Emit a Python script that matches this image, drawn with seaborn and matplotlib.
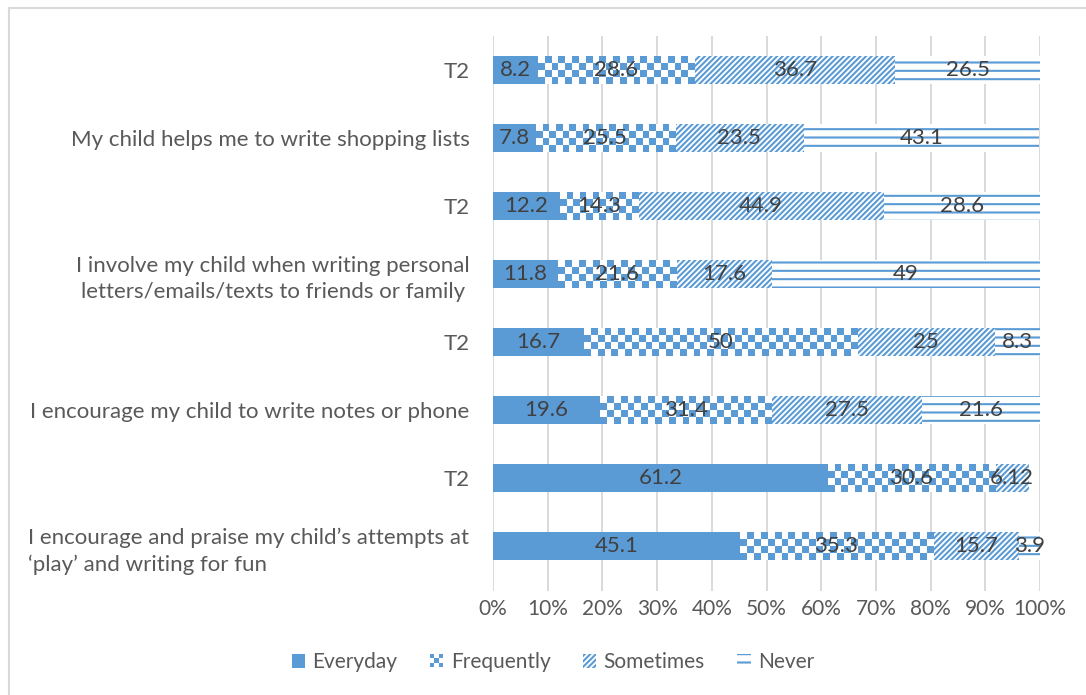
import numpy as np
import pandas as pd
import matplotlib
matplotlib.use("Agg")
import matplotlib.pyplot as plt
from matplotlib.colors import ListedColormap
from matplotlib.patches import Patch, Rectangle
from matplotlib.legend_handler import HandlerBase
import seaborn as sns

# ---- data -------------------------------------------------------------
items = [
    "T2",
    "My child helps me to write shopping lists",
    "T2",
    "I involve my child when writing personal\nletters/emails/texts to friends or family",
    "T2",
    "I encourage my child to write notes or phone",
    "T2",
    "I encourage and praise my child\u2019s attempts at\n\u2018play\u2019 and writing for fun",
]
everyday = [8.2, 7.8, 12.2, 11.8, 16.7, 19.6, 61.2, 45.1]
frequently = [28.6, 25.5, 14.3, 21.6, 50, 31.4, 30.6, 35.3]
sometimes = [36.7, 23.5, 44.9, 17.6, 25, 27.5, 6.12, 15.7]
never = [26.5, 43.1, 28.6, 49, 8.3, 21.6, None, 3.9]
series_names = ["Everyday", "Frequently", "Sometimes", "Never"]
x_ticks = [0, 10, 20, 30, 40, 50, 60, 70, 80, 90, 100]

# ---- styling ----------------------------------------------------------
BLUE = "#5B9BD5"
AXIS_TXT = "#595959"
LABEL_TXT = "#404040"
GRID = "#D9D9D9"
HATCH_DIAG = "//////"
HATCH_HORIZ = "--"

sns.set_style("white")
plt.rcParams["font.family"] = ["Lato", "DejaVu Sans"]
plt.rcParams["hatch.linewidth"] = 1.5

W, H = 1086, 695
fig = plt.figure(figsize=(W / 100, H / 100), dpi=100)
ax = fig.add_axes([493 / W, 1 - 591 / H, 547 / W, 555 / H])

rows = [f"r{i}" for i in range(len(items))]
df = pd.DataFrame({
    "row": rows,
    "Everyday": everyday,
    "Frequently": frequently,
    "Sometimes": sometimes,
    "Never": [np.nan if v is None else v for v in never],
})
cum = df[series_names].fillna(0).cumsum(axis=1)
for name in series_names:
    df["end_" + name] = cum[name]

BAR_W = 0.4

# stacked bars are drawn back-to-front as cumulative totals
common = dict(y="row", order=rows, orient="h", width=BAR_W, saturation=1,
              errorbar=None, ax=ax)
sns.barplot(data=df, x="end_Never", color="white", edgecolor=BLUE,
            linewidth=0, hatch=HATCH_HORIZ, zorder=1, **common)
sns.barplot(data=df, x="end_Sometimes", color="white", edgecolor=BLUE,
            linewidth=0, hatch=HATCH_DIAG, zorder=1.2, **common)
sns.barplot(data=df, x="end_Frequently", color="white", linewidth=0,
            zorder=1.4, **common)

# checkerboard fill for the "Frequently" segments
checker_cmap = ListedColormap(["white", BLUE])
ax_w_px = 547
cell_px = 6.8
for i in range(len(rows)):
    x0 = everyday[i]
    x1 = x0 + frequently[i]
    ncols = max(1, int(round(frequently[i] / 100 * ax_w_px / cell_px)))
    nrows = 4
    board = np.add.outer(np.arange(nrows), np.arange(ncols)) % 2
    ax.imshow(board, cmap=checker_cmap, extent=(x0, x1, i + BAR_W / 2, i - BAR_W / 2),
              aspect="auto", interpolation="nearest", zorder=1.6, vmin=0, vmax=1)

sns.barplot(data=df, x="end_Everyday", color=BLUE, linewidth=0, zorder=1.8, **common)

# value labels centred in each segment
for i in range(len(rows)):
    left = 0
    for name in series_names:
        v = df.loc[i, name]
        if pd.isna(v):
            continue
        ax.text(left + v / 2, i, f"{v:g}", ha="center", va="center",
                color=LABEL_TXT, fontsize=16, zorder=5)
        left += v

# ---- axes -------------------------------------------------------------
ax.set_xlim(0, 100)
ax.set_ylim(len(rows) - 0.5 + 11 / 68, -0.5)
ax.set_xticks(x_ticks)
ax.set_xticklabels([f"{t}%" for t in x_ticks])
ax.set_yticks(range(len(rows)))
ax.set_yticklabels(items)
ax.set_xlabel("")
ax.set_ylabel("")
ax.xaxis.grid(True, color=GRID, linewidth=1.4)
ax.yaxis.grid(False)
ax.set_axisbelow(True)
for s in ax.spines.values():
    s.set_visible(False)
ax.tick_params(axis="both", length=0, labelcolor=AXIS_TXT)
ax.tick_params(axis="x", labelsize=15, pad=6)
ax.tick_params(axis="y", labelsize=16, pad=17)
for lbl in ax.get_yticklabels():
    lbl.set_linespacing(1.4)
    txt = lbl.get_text()
    if "\n" in txt:
        lbl.set_multialignment("left" if txt.startswith("I encourage and") else "center")

# ---- legend -----------------------------------------------------------
class CheckerHandler(HandlerBase):
    def create_artists(self, legend, orig_handle, xdescent, ydescent,
                       width, height, fontsize, trans):
        side = min(width, height)
        x0 = (width - side) / 2 - xdescent
        y0 = (height - side) / 2 - ydescent
        cell = side / 3
        arts = []
        for r in range(3):
            for c in range(3):
                if (r + c) % 2 == 0:
                    arts.append(Rectangle((x0 + c * cell, y0 + r * cell), cell, cell,
                                          facecolor=BLUE, edgecolor="none",
                                          transform=trans))
        return arts


h_every = Patch(facecolor=BLUE, edgecolor="none", label="Everyday")
h_freq = Patch(facecolor="white", edgecolor="none", label="Frequently")
h_some = Patch(facecolor="white", edgecolor=BLUE, linewidth=0, hatch=HATCH_DIAG,
               label="Sometimes")
h_never = Patch(facecolor="white", edgecolor=BLUE, linewidth=0, hatch=HATCH_HORIZ,
                label="Never")
leg = fig.legend(handles=[h_every, h_freq, h_some, h_never],
                 handler_map={h_freq: CheckerHandler()},
                 loc="center", bbox_to_anchor=(553 / W, 1 - 662 / H), ncol=4,
                 frameon=False, fontsize=15, handlelength=0.65,
                 handleheight=0.65, handletextpad=0.35, columnspacing=1.55)
for t in leg.get_texts():
    t.set_color(AXIS_TXT)

# outer chart border
fig.patches.append(Rectangle((9 / W, -0.02), 1.05, 1 - 8 / H + 0.02,
                             transform=fig.transFigure, fill=False,
                             edgecolor=GRID, linewidth=1.5))

fig.savefig("out.png", dpi=100)
